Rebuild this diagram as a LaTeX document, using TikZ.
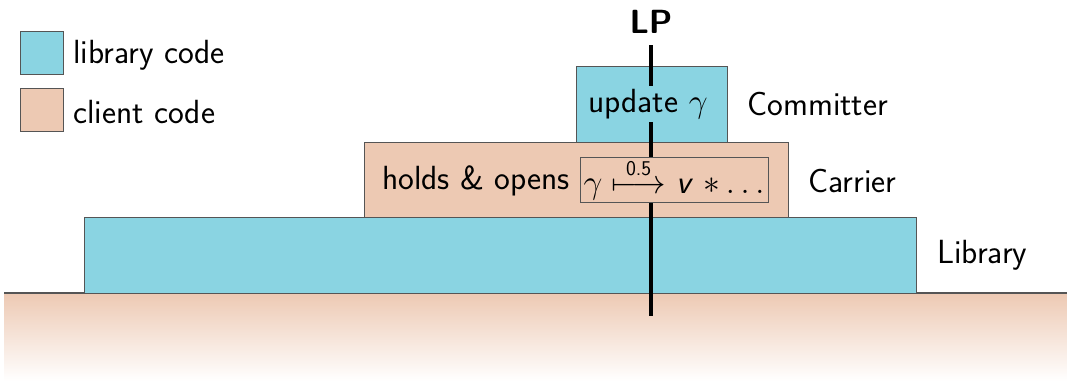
\RequirePackage{fix-cm}
\documentclass[tikz,border=0pt]{standalone}
\usepackage{amsmath}
\usepackage{fontspec}
\definecolor{libblue}{RGB}{138,212,226}
\definecolor{clientc}{RGB}{237,201,179}
\definecolor{edgec}{RGB}{85,85,85}
\begin{document}
\begin{tikzpicture}[x=1pt,y=-1pt,
  every node/.style={font=\fontsize{33.5}{40}\selectfont\sffamily},
  layer/.style={draw=edgec,line width=0.9pt,inner sep=0pt},
  lib/.style={layer,fill=libblue},
  cli/.style={layer,fill=clientc},
  lbl/.style={anchor=west,inner sep=0pt},
  lpline/.style={line width=3.4pt,black}]
\useasboundingbox (0,0) rectangle (1067,381);
% ground
\shade[top color=clientc,bottom color=white,draw=none] (4,293) rectangle (1067,381);
\draw[edgec,line width=1.2pt] (4,293) -- (1067,293);
% legend
\node[lib,minimum width=43pt,minimum height=43pt] (legl) at (41.5,52.5) {};
\node[lbl] (legltxt) at (73,55) {library code};
\node[cli,minimum width=43pt,minimum height=43pt] (legc) at (41.5,109.5) {};
\node[lbl] (legctxt) at (73,112) {client code};
% layers
\node[lib,minimum width=832pt,minimum height=76pt] (library) at (500,255) {};
\node[cli,minimum width=424pt,minimum height=75pt] (carrier) at (576,179.5) {};
\node[lib,minimum width=151pt,minimum height=76pt] (committer) at (651.5,104) {};
% LP line
\node[font=\fontsize{33.5}{40}\selectfont\sffamily\bfseries,inner sep=2pt] (lp) at (651,22) {LP};
\coordinate (lpend) at (651,316);
\draw[lpline] (651,45) -- (lpend);
% texts
\node[fill=libblue,inner sep=3pt] (upd) at (648,104) {update $\gamma$};
\node[inner sep=0pt] (holds) at (476,181) {holds \& opens};
\node[draw=edgec,line width=0.9pt,fill=clientc,minimum width=188pt,minimum height=45pt,inner sep=0pt] (inner) at (674,179.5)
  {$\gamma \overset{\text{\fontsize{21}{25}\selectfont\sffamily 0.5}}{\longmapsto}$ \textsf{\itshape v} $* \ldots$};
% side labels
\node[lbl] (tcomm) at (747,104) {Committer};
\node[lbl] (tcarr) at (808,181) {Carrier};
\node[lbl] (tlib) at (937,255) {Library};
\end{tikzpicture}
\end{document}
